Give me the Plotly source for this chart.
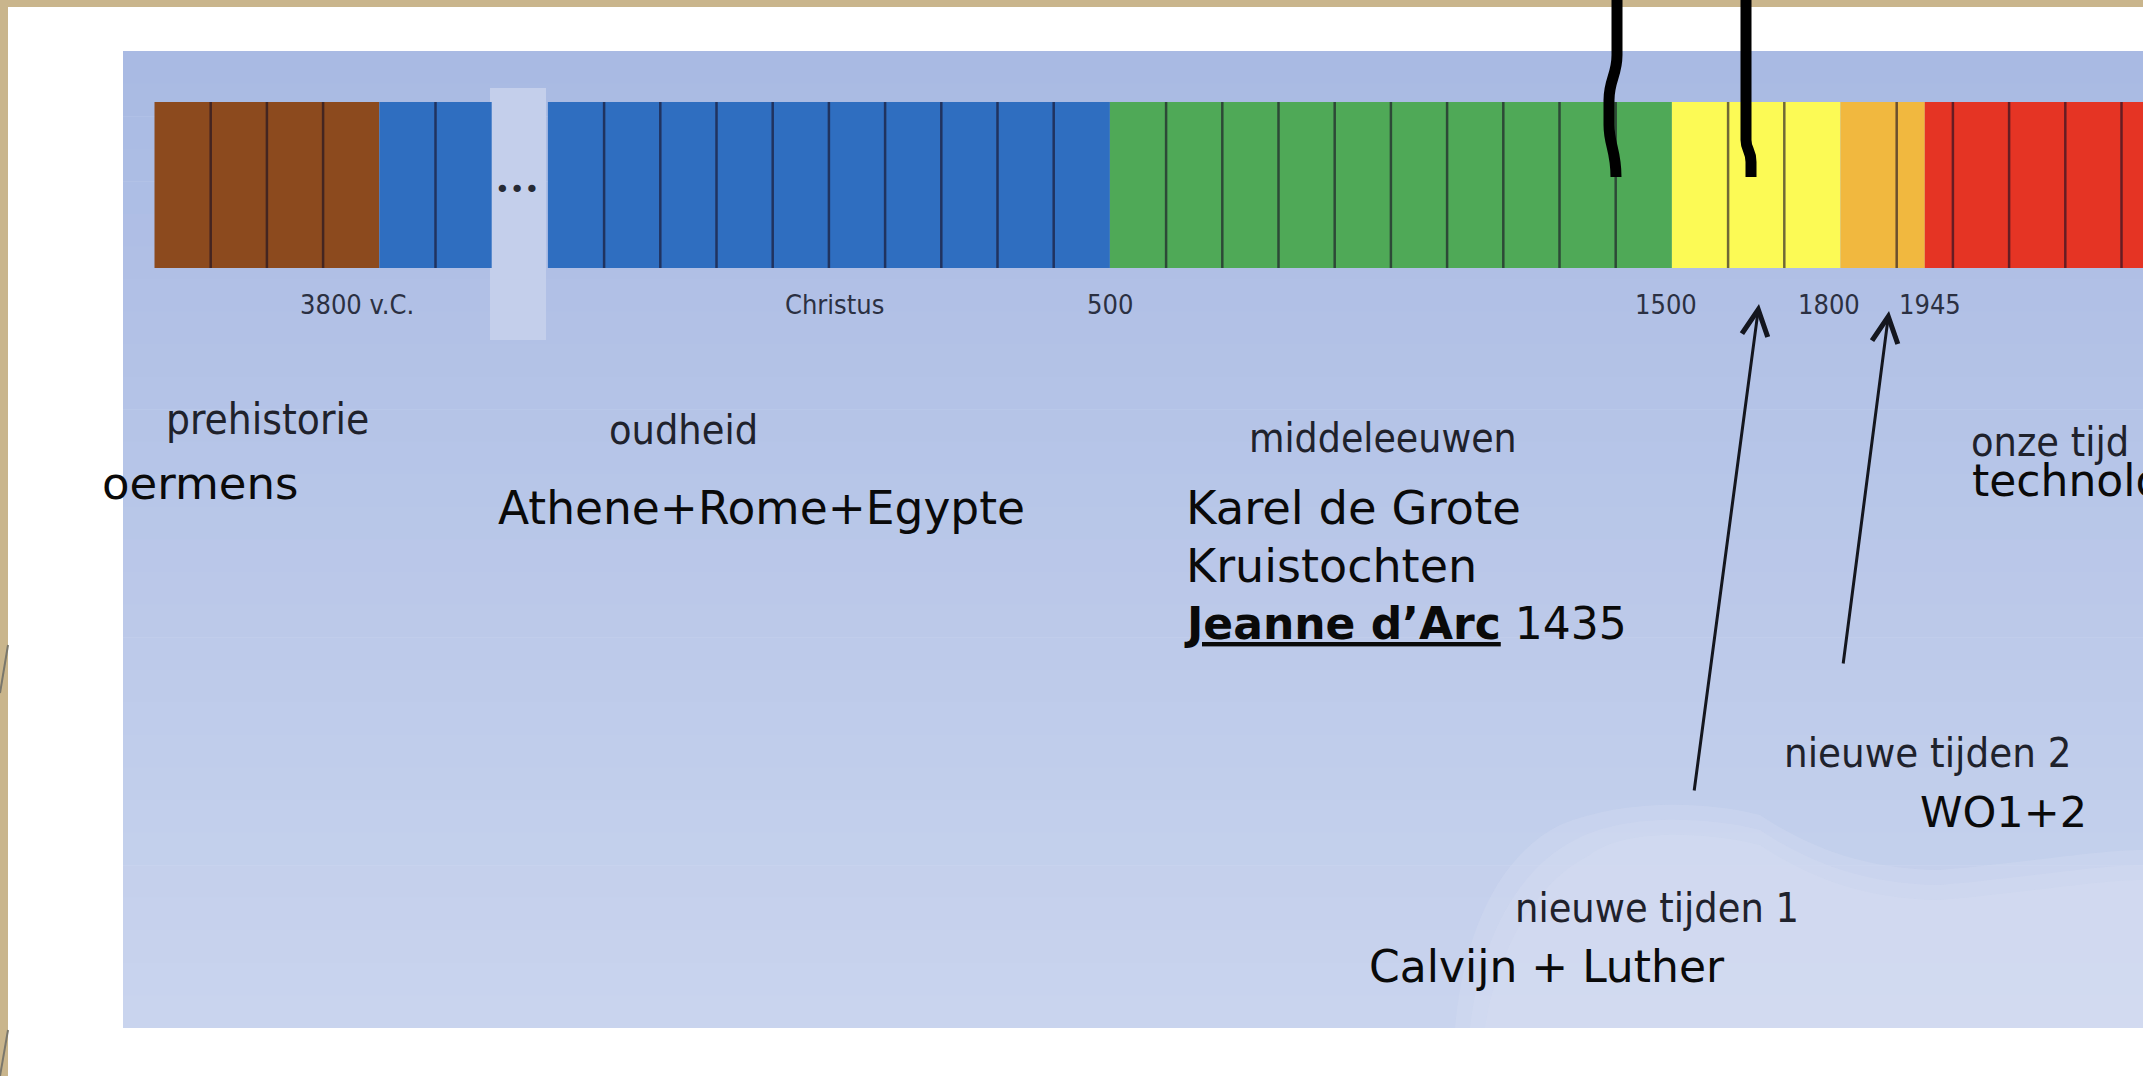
import math
import plotly.graph_objects as go

W, H = 2143, 1076

# ---------------- data ----------------
era_names = ["prehistorie", "oudheid", "oudheid", "middeleeuwen",
             "nieuwe tijden 1", "nieuwe tijden 2", "onze tijd"]
era_start = [0, 4, 7, 17, 27, 30, 31.5]
era_end = [4, 6, 17, 27, 30, 31.5, 37]
era_colors = ["#8c4a1e", "#2f6ec0", "#2f6ec0", "#4fa957",
              "#fcfa55", "#f1b83f", "#e53424"]

tick_labels = ["3800 v.C.", "Christus", "500", "1500", "1800", "1945"]
tick_pos = [3.6, 12.1, 17.0, 26.9, 29.8, 31.6]

period_labels = ["prehistorie", "oudheid", "middeleeuwen",
                 "nieuwe tijden 1", "nieuwe tijden 2", "onze tijd"]
event_texts = ["oermens", "Athene+Rome+Egypte", "Karel de Grote",
               "Kruistochten", "<b><u>Jeanne d’Arc</u></b> 1435",
               "Calvijn + Luther", "WO1+2", "technologie"]

# ---------------- layout constants (pixels) ----------------
U0, UW = 154.5, 56.2          # pixel of unit 0, pixels per unit
BAR_TOP, BAR_BOT = 102, 268
GRAY_FONT = "DejaVu Sans Condensed, Liberation Sans Narrow, DejaVu Sans, sans-serif"
BLACK_FONT = "DejaVu Sans, Verdana, sans-serif"

# period label placement: (center x, baseline y, size)
period_pos = [(267, 435, 42), (683, 445, 41), (1383, 453, 40.5),
              (1657, 923, 41), (1927, 768, 41.5), (2050, 457, 41)]
# event text placement: (left x, baseline y, size)
event_pos = [(100, 500, 45), (496, 525, 45.5), (1184, 525, 46.5),
             (1184, 583, 46), (1182, 640, 44), (1367, 983, 44),
             (1918, 828, 43), (1970, 497, 44)]

fig = go.Figure()

# timeline bar
fig.add_trace(go.Bar(
    orientation="h",
    base=era_start,
    x=[e - s for s, e in zip(era_start, era_end)],
    y=[(BAR_TOP + BAR_BOT) / 2] * len(era_start),
    width=[BAR_BOT - BAR_TOP] * len(era_start),
    marker=dict(color=era_colors, line=dict(width=0)),
    hoverinfo="skip", showlegend=False,
))

# cell dividers at interior whole units of each era
dx, dy = [], []
for s, e in zip(era_start, era_end):
    k = math.floor(s) + 1
    while k < e:
        dx += [k, k, None]
        dy += [BAR_TOP, BAR_BOT, None]
        k += 1
fig.add_trace(go.Scatter(
    x=dx, y=dy, mode="lines",
    line=dict(color="rgba(25,15,35,0.62)", width=2.5),
    hoverinfo="skip", showlegend=False,
))

shapes = []
def px(x):
    return x / W

# white page + parchment border
shapes.append(dict(type="rect", xref="paper", yref="y", x0=0, x1=1, y0=0, y1=7,
                   fillcolor="#c9b58c", line_width=0, layer="below"))
shapes.append(dict(type="rect", xref="paper", yref="y", x0=0, x1=px(8), y0=0, y1=H,
                   fillcolor="#c9b58c", line_width=0, layer="below"))
for (x0, y0, x1, y1) in [(0, 693, 8, 645), (0, 1076, 8, 1030)]:
    shapes.append(dict(type="line", xref="paper", yref="y", x0=px(x0), y0=y0,
                       x1=px(x1), y1=y1, line=dict(color="#7a776c", width=2), layer="below"))

# panel with vertical gradient (bands)
P_L, P_T, P_B = 123, 51, 1028
top_c, bot_c = (169, 186, 227), (201, 212, 238)
n = 30
for i in range(n):
    t = i / (n - 1)
    c = tuple(round(a + (b - a) * t) for a, b in zip(top_c, bot_c))
    y0 = P_T + (P_B - P_T) * i / n
    y1 = P_T + (P_B - P_T) * (i + 1) / n + 0.6
    shapes.append(dict(type="rect", xref="paper", yref="y", x0=px(P_L), x1=1,
                       y0=y0, y1=min(y1, P_B), fillcolor="rgb(%d,%d,%d)" % c,
                       line_width=0, layer="below"))

# soft light cloud, bottom right (layers for a softer edge)
def cloud_path(dxp, dyp):
    return ("M {a},1028 C {b},{y1} {c},{y2} {d},{y3} C {e},{y4} {f},{y4} {g},{y5} "
            "C {h},{y6} {i},{y7} {j},{y7} C {k},{y8} {l},{y9} 1,{y9} L 1,1028 Z").format(
        a=px(1455 + dxp), b=px(1462 + dxp), c=px(1490 + dxp), d=px(1560 + dxp),
        e=px(1620), f=px(1700), g=px(1760), h=px(1790), i=px(1850), j=px(1940),
        k=px(2030), l=px(2100),
        y1=950 + dyp, y2=860 + dyp, y3=825 + dyp, y4=800 + dyp, y5=815 + dyp,
        y6=835 + dyp, y7=870 + dyp, y8=862 + dyp, y9=850 + dyp)
for off in (0, 15, 30):
    shapes.append(dict(type="path", xref="paper", yref="y", path=cloud_path(off, off),
                       fillcolor="rgba(216,223,242,0.30)", line_width=0, layer="below"))

# "..." gap column
shapes.append(dict(type="rect", xref="paper", yref="y", x0=px(490), x1=px(546),
                   y0=88, y1=340, fillcolor="#c4cfeb", line_width=0, layer="below"))

# hand-drawn black marks at top (smooth curves)
hand1 = ("M {a},0 L {a},55 C {a},75 {b},80 {b},100 L {b},125 C {b},145 {c},150 {c},177"
         ).format(a=px(1617), b=px(1609), c=px(1616))
hand2 = ("M {a},0 L {a},140 C {a},150 {b},150 {b},162 L {b},177"
         ).format(a=px(1746), b=px(1751))
for path in (hand1, hand2):
    shapes.append(dict(type="path", xref="paper", yref="y", path=path,
                       line=dict(color="black", width=11), layer="above"))

annotations = []

# "..." dots
annotations.append(dict(text="•••", xref="paper", yref="y", x=px(517), y=189,
                        xanchor="center", yanchor="middle", showarrow=False,
                        font=dict(family=BLACK_FONT, size=25, color="#262a35")))

# tick labels below bar (x in timeline units)
for lab, pos in zip(tick_labels, tick_pos):
    annotations.append(dict(text=lab, xref="x", yref="y", x=pos, y=315 + 0.236 * 27 + 1,
                            xanchor="center", yanchor="bottom", showarrow=False,
                            font=dict(family=GRAY_FONT, size=27, color="#2b3042")))

# period labels
for lab, (cx, base, sz) in zip(period_labels, period_pos):
    annotations.append(dict(text=lab, xref="paper", yref="y", x=px(cx), y=base + 0.236 * sz + 1,
                            xanchor="center", yanchor="bottom", showarrow=False,
                            font=dict(family=GRAY_FONT, size=sz, color="#1f222c")))

# event texts
for lab, (lx, base, sz) in zip(event_texts, event_pos):
    annotations.append(dict(text=lab, xref="paper", yref="y", x=px(lx), y=base + 0.236 * sz + 1,
                            xanchor="left", yanchor="bottom", showarrow=False,
                            font=dict(family=BLACK_FONT, size=sz, color="#0a0a0a")))

# arrows (tip, tail)
arrows = [((1759, 304), (1694, 792)), ((1889, 311), (1843, 665))]
for (tx, ty), (sx, sy) in arrows:
    annotations.append(dict(text="", xref="paper", yref="y", x=px(tx), y=ty,
                            axref="pixel", ayref="pixel", ax=sx - tx, ay=sy - ty,
                            showarrow=True, arrowhead=5, arrowsize=1.7, arrowwidth=3,
                            arrowcolor="#14161e", standoff=0))

fig.update_layout(
    width=W, height=H,
    margin=dict(l=0, r=0, t=0, b=0),
    paper_bgcolor="white", plot_bgcolor="white",
    barmode="overlay",
    xaxis=dict(range=[(0 - U0) / UW, (W - U0) / UW], visible=False, fixedrange=True),
    yaxis=dict(range=[H, 0], visible=False, fixedrange=True),
    shapes=shapes, annotations=annotations,
    showlegend=False,
)

fig.write_html("out.html", config={"displayModeBar": False},
               post_script="document.body.style.margin='0';document.body.style.overflow='hidden';")
